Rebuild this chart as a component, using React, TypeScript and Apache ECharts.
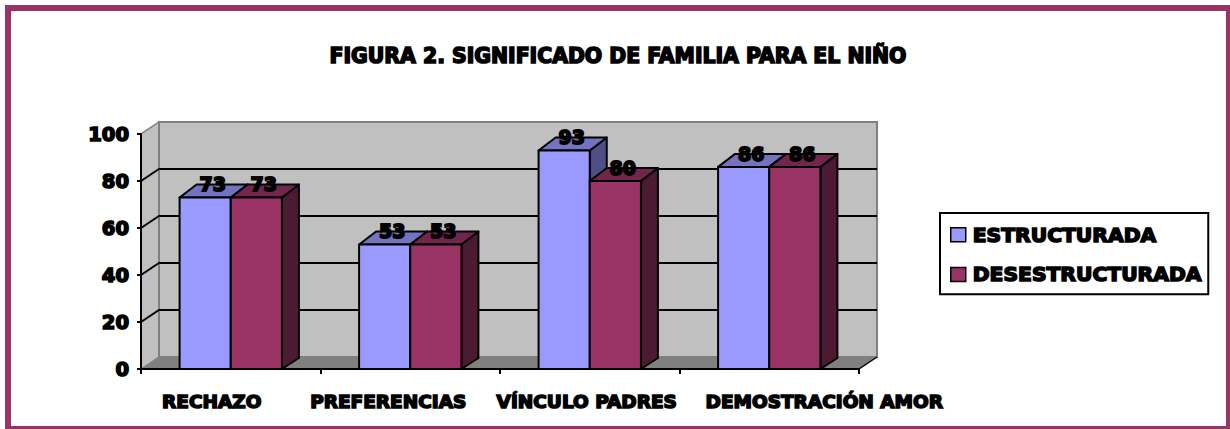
import React, { useEffect, useRef } from "react";
import * as echarts from "echarts";

const titleText = "FIGURA 2. SIGNIFICADO DE FAMILIA PARA EL NIÑO";
const categories = ["RECHAZO", "PREFERENCIAS", "VÍNCULO PADRES", "DEMOSTRACIÓN AMOR"];
const estructurada = [73, 53, 93, 86];
const desestructurada = [73, 53, 80, 86];
const yTicks = [20, 40, 60, 80];

const FONT = '"DejaVu Sans", sans-serif';
const DEPTH_X = 17;
const DEPTH_Y = -13;
const BAR_RATIO = 0.285;
const labelKeys = ["a", "b", "c", "d"];
const stroke = { textBorderColor: "#000", textBorderWidth: 1.6 };
const catFont = { fontFamily: FONT, fontSize: 18.5, fontWeight: "bold", color: "#000", ...stroke };

function roomItem(_params: any, api: any) {
  const band = api.size([1, 0])[0];
  const l = api.coord([0, 0])[0] - band / 2;
  const r = api.coord([3, 0])[0] + band / 2;
  const y0 = api.coord([0, 0])[1];
  const y100 = api.coord([0, 100])[1];
  const dx = 18;
  const dy = -12;
  const children: any[] = [
    { type: "polygon", shape: { points: [[l, y0], [l + dx, y0 + dy], [l + dx, y100 + dy], [l, y100]] }, style: { fill: "#C0C0C0", stroke: "#808080", lineWidth: 1.5 } },
    { type: "rect", shape: { x: l + dx, y: y100 + dy, width: r - l, height: y0 - y100 }, style: { fill: "#C0C0C0", stroke: "#808080", lineWidth: 2 } },
    { type: "polygon", shape: { points: [[l, y0], [r, y0], [r + dx, y0 + dy], [l + dx, y0 + dy]] }, style: { fill: "#808080" } },
    { type: "line", shape: { x1: r, y1: y0, x2: r + dx, y2: y0 + dy }, style: { stroke: "#000", lineWidth: 1.5 } },
  ];
  yTicks.forEach((t) => {
    const y = api.coord([0, t])[1];
    children.push({ type: "polyline", shape: { points: [[l, y], [l + dx, y + dy], [r + dx, y + dy]] }, style: { fill: "none", stroke: "#000", lineWidth: 2 } });
  });
  return { type: "group", children };
}

function barItem(shift: number, front: string, top: string, side: string) {
  return (_params: any, api: any) => {
    const c = api.coord([api.value(0), api.value(1)]);
    const y0 = api.coord([api.value(0), 0])[1];
    const w = api.size([1, 0])[0] * BAR_RATIO;
    const x = c[0] + (shift < 0 ? -w : 0);
    const y = c[1];
    const s = { stroke: "#000", lineWidth: 2, lineJoin: "round" };
    return {
      type: "group",
      children: [
        { type: "polygon", shape: { points: [[x + w, y], [x + w + DEPTH_X, y + DEPTH_Y], [x + w + DEPTH_X, y0 + DEPTH_Y + 2], [x + w, y0]] }, style: { fill: side, ...s } },
        { type: "polygon", shape: { points: [[x, y], [x + DEPTH_X, y + DEPTH_Y], [x + w + DEPTH_X, y + DEPTH_Y], [x + w, y]] }, style: { fill: top, ...s } },
        { type: "rect", shape: { x, y, width: w, height: y0 - y }, style: { fill: front, ...s } },
        { type: "text", z2: 50, style: { text: String(api.value(1)), x: x + w / 2 + 7.5, y: y - 13, align: "center", verticalAlign: "middle", font: `bold 19px ${FONT}`, fill: "#000", stroke: "#000", lineWidth: 1.8 } },
      ],
    };
  };
}

export default function App() {
  const ref = useRef<HTMLDivElement>(null);
  useEffect(() => {
    const chart = echarts.init(ref.current!, undefined, { renderer: "svg" });
    chart.setOption({
      animation: false,
      backgroundColor: "#fff",
      title: {
        text: titleText,
        left: 613,
        top: 41,
        textAlign: "center",
        textStyle: { fontFamily: FONT, fontSize: 20.4, fontWeight: "bold", color: "#000", ...stroke },
      },
      graphic: [
        { type: "rect", shape: { x: 8, y: 8, width: 1221, height: 421 }, style: { fill: "none", stroke: "#993366", lineWidth: 6 }, z: 0 },
      ],
      grid: { left: 141, top: 134, width: 718, height: 235 },
      xAxis: {
        type: "category",
        data: categories,
        z: 10,
        axisLine: { lineStyle: { color: "#000", width: 2 } },
        axisTick: { show: true, length: 5, lineStyle: { color: "#000", width: 2 } },
        axisLabel: {
          interval: 0,
          hideOverlap: false,
          margin: 23,
          formatter: (v: string) => `{${labelKeys[categories.indexOf(v)]}|${v}}`,
          rich: {
            a: { padding: [0, 38, 0, 0], ...catFont },
            b: { padding: [0, 44, 0, 0], ...catFont },
            c: { padding: [0, 6, 0, 0], ...catFont },
            d: { padding: [0, 0, 0, 110], ...catFont },
          },
        },
      },
      yAxis: {
        type: "value",
        min: 0,
        max: 100,
        interval: 20,
        z: 10,
        splitLine: { show: false },
        axisLine: { show: true, lineStyle: { color: "#000", width: 2 } },
        axisTick: { show: true, length: 4, lineStyle: { color: "#000", width: 2 } },
        axisLabel: { margin: 12, fontFamily: FONT, fontSize: 19.5, fontWeight: "bold", color: "#000", ...stroke },
      },
      legend: {
        data: ["ESTRUCTURADA", "DESESTRUCTURADA"],
        orient: "vertical",
        left: 940,
        top: 213,
        padding: [11, 6, 9, 10],
        itemWidth: 15,
        itemHeight: 14,
        itemGap: 18,
        icon: "rect",
        backgroundColor: "#fff",
        borderColor: "#000",
        borderWidth: 2,
        itemStyle: { borderColor: "#000", borderWidth: 1.5 },
        textStyle: { fontFamily: FONT, fontSize: 20.3, fontWeight: "bold", color: "#000", ...stroke, padding: [0, 0, 0, 2] },
      },
      series: [
        { type: "custom", name: "room", silent: true, clip: false, data: [[0, 0]], encode: { x: 0, y: 1 }, renderItem: roomItem, z: 1 },
        {
          type: "custom",
          name: "ESTRUCTURADA",
          clip: false,
          itemStyle: { color: "#9999FF" },
          data: estructurada.map((v, i) => [i, v]),
          encode: { x: 0, y: 1 },
          renderItem: barItem(-1, "#9999FF", "#7373BF", "#4F4F88"),
          z: 2,
        },
        {
          type: "custom",
          name: "DESESTRUCTURADA",
          clip: false,
          itemStyle: { color: "#993366" },
          data: desestructurada.map((v, i) => [i, v]),
          encode: { x: 0, y: 1 },
          renderItem: barItem(1, "#993366", "#73264D", "#4D1A33"),
          z: 3,
        },
      ],
    });
    return () => chart.dispose();
  }, []);
  return <div ref={ref} style={{ position: "fixed", left: 0, top: 0, width: 1230, height: 429 }} />;
}
